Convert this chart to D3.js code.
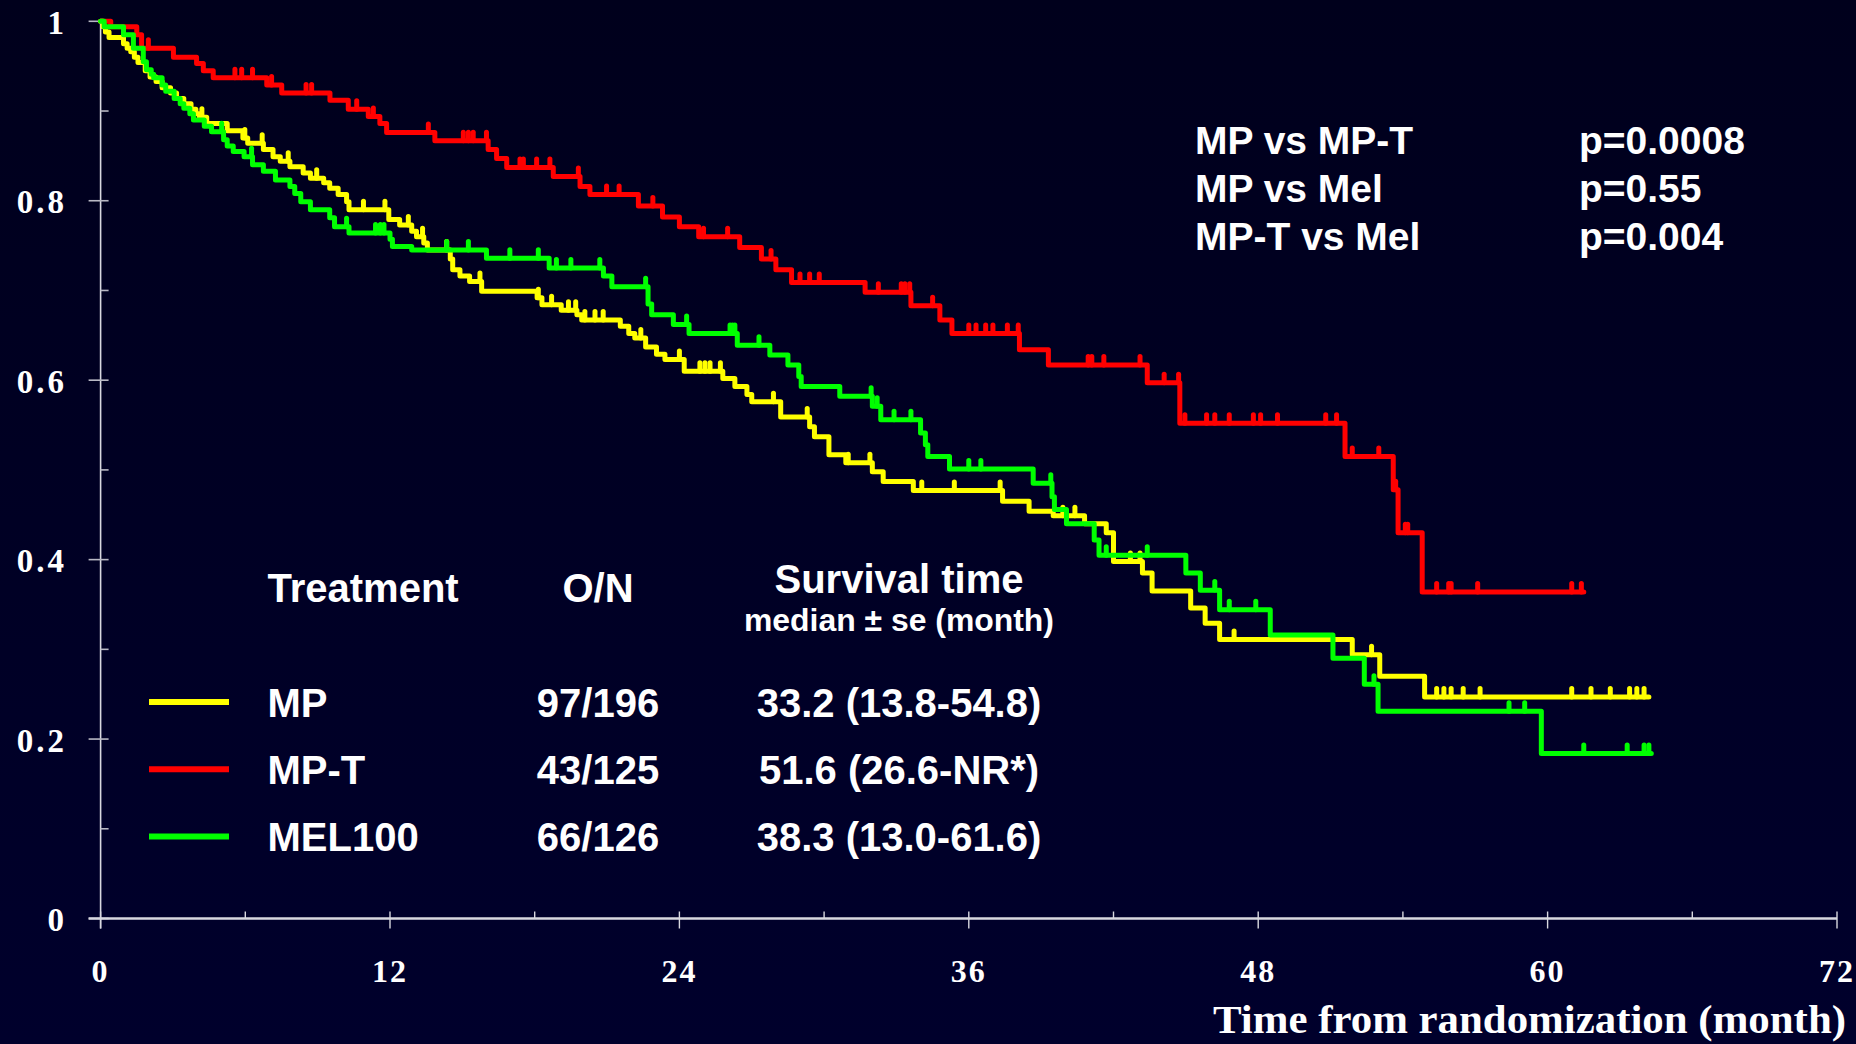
<!DOCTYPE html>
<html>
<head>
<meta charset="utf-8">
<title>Overall survival by treatment arm</title>
<script src="https://cdn.jsdelivr.net/npm/d3@7"></script>
<style>
  html, body { margin: 0; padding: 0; background: #000022; overflow: hidden; }
  svg { display: block; }
  .sans { font-family: "Liberation Sans", Arial, sans-serif; font-weight: bold; fill: #ffffff; }
  .serif { font-family: "Liberation Serif", "Times New Roman", serif; font-weight: bold; fill: #ffffff; }
</style>
</head>
<body>
<svg id="chart" width="1856" height="1044"></svg>
<script>
// ---- Kaplan–Meier estimates: [month, survival after the event] ----
const mpSteps = [
  [0,1],[0.1,0.994],[0.2,0.988],[0.35,0.982],[0.95,0.975],[1.1,0.970],[1.25,0.966],[1.4,0.960],
  [1.55,0.954],[1.85,0.945],[2.05,0.938],[2.3,0.933],[2.55,0.926],[2.9,0.920],[3.15,0.914],
  [3.45,0.908],[3.75,0.902],[3.95,0.897],[4.1,0.893],[4.4,0.886],[5.25,0.878],[5.9,0.870],
  [6.1,0.864],[6.75,0.857],[7.15,0.849],[7.45,0.844],[7.85,0.838],[8.4,0.831],[8.7,0.825],
  [9.25,0.820],[9.5,0.814],[9.85,0.807],[10.2,0.799],[10.3,0.790],[11.95,0.779],[12.4,0.773],
  [12.9,0.766],[13.1,0.760],[13.4,0.753],[13.55,0.745],[14.5,0.735],[14.6,0.723],[14.9,0.716],
  [15.3,0.710],[15.8,0.699],[18.1,0.692],[18.3,0.684],[19.1,0.678],[19.75,0.673],[19.95,0.667],
  [21.55,0.660],[21.9,0.652],[22.15,0.647],[22.6,0.637],[23.05,0.629],[23.4,0.623],[24.2,0.610],
  [25.8,0.602],[26.3,0.593],[26.8,0.584],[27.0,0.576],[28.2,0.559],[29.4,0.548],[29.6,0.537],
  [30.2,0.517],[30.9,0.508],[32.0,0.498],[32.45,0.487],[33.7,0.477],[37.4,0.465],[38.5,0.454],
  [39.5,0.449],[40.8,0.440],[41.7,0.430],[42.0,0.398],[43.2,0.385],[43.6,0.365],[45.2,0.346],
  [45.8,0.329],[46.4,0.311],[51.9,0.294],[53.04,0.270],[54.9,0.247]
];
const mpCensored = [
  4.2,5.98,6.7,7.78,8.96,10.9,11.79,12.76,13.35,14.35,15.73,18.15,18.7,19.4,19.7,20.08,20.5,
  20.84,22.4,24.0,24.85,25.06,25.27,25.7,27.9,29.3,31.0,31.9,34.05,35.4,37.3,39.9,40.4,42.7,
  43.1,47.0,52.7,55.4,55.7,56.0,56.5,57.2,61.0,61.8,62.6,63.4,63.7,64.0
];
const mpLastFollowUp = 64.2;

const mptSteps = [
  [0,1],[0.42,0.994],[1.5,0.985],[1.7,0.970],[3.02,0.960],[3.98,0.953],[4.26,0.945],[4.67,0.937],
  [6.89,0.929],[7.51,0.920],[9.51,0.912],[10.27,0.902],[11.10,0.894],[11.58,0.886],[11.86,0.876],
  [13.86,0.867],[16.07,0.857],[16.42,0.847],[16.84,0.837],[18.77,0.827],[19.88,0.816],[20.29,0.807],
  [22.3,0.794],[23.3,0.782],[24.0,0.771],[24.8,0.760],[26.5,0.748],[27.4,0.735],[28.0,0.723],
  [28.65,0.709],[31.7,0.698],[33.6,0.683],[34.8,0.667],[35.3,0.652],[38.1,0.634],[39.3,0.617],
  [43.4,0.597],[44.75,0.552],[51.6,0.515],[53.6,0.478],[53.8,0.430],[54.8,0.364]
];
const mptCensored = [
  1.98,5.57,5.85,6.30,7.09,8.52,8.75,10.62,11.31,13.59,15.04,15.25,15.45,16.0,17.39,17.53,18.08,
  18.63,19.81,20.98,21.5,22.9,25.0,26.0,27.8,29.0,29.4,29.8,32.25,33.2,33.35,33.55,34.5,36.0,36.3,
  36.7,37.0,37.6,38.05,40.95,41.1,41.6,43.1,44.1,44.7,44.96,45.86,46.2,46.8,47.8,48.1,48.8,50.8,
  51.25,51.9,53.0,53.7,54.1,54.2,55.4,55.9,56.0,57.1,61.0,61.4
];
const mptLastFollowUp = 61.5;

const melSteps = [
  [0,1],[0.15,0.994],[0.95,0.985],[1.36,0.970],[1.77,0.955],[1.9,0.946],[2.1,0.941],[2.2,0.937],
  [2.55,0.929],[2.7,0.922],[3.05,0.914],[3.3,0.908],[3.45,0.903],[3.7,0.897],[3.85,0.890],[4.3,0.883],
  [4.6,0.877],[5.1,0.868],[5.25,0.861],[5.5,0.855],[5.95,0.849],[6.3,0.840],[6.75,0.833],[7.25,0.823],
  [7.85,0.816],[8.05,0.808],[8.3,0.799],[8.7,0.790],[9.5,0.781],[9.7,0.771],[10.3,0.764],[12.0,0.757],
  [12.1,0.749],[12.9,0.745],[16.0,0.736],[18.6,0.725],[20.85,0.716],[21.2,0.704],[22.7,0.685],
  [22.85,0.673],[23.75,0.662],[24.4,0.652],[26.4,0.639],[27.75,0.628],[28.5,0.617],[28.95,0.604],
  [29.05,0.593],[30.65,0.582],[32.0,0.571],[32.35,0.556],[34.0,0.541],[34.2,0.528],[34.3,0.515],
  [35.2,0.501],[38.67,0.485],[39.45,0.470],[39.55,0.456],[40.05,0.440],[41.2,0.422],[41.4,0.405],
  [45.0,0.385],[45.6,0.366],[46.4,0.344],[48.5,0.316],[51.1,0.290],[52.4,0.261],[52.97,0.231],
  [59.74,0.184]
];
const melCensored = [
  5.02,6.26,10.2,11.4,11.6,11.75,14.35,15.25,16.97,18.15,18.9,19.5,20.7,22.6,24.3,26.1,26.2,26.3,
  27.3,31.95,32.2,32.9,33.6,36.0,36.5,39.4,41.7,43.4,46.2,46.8,47.9,52.8,58.4,59.05,61.5,63.3,
  64.0,64.2
];
const melLastFollowUp = 64.3;

// ---- legend table ----
const armNames   = ["MP", "MP-T", "MEL100"];
const armColors  = ["#ffff00", "#ff0000", "#00ff00"];
const armEvents  = ["97/196", "43/125", "66/126"];
const armMedians = ["33.2 (13.8-54.8)", "51.6 (26.6-NR*)", "38.3 (13.0-61.6)"];

// ---- pairwise log-rank tests ----
const comparisons = ["MP vs MP-T", "MP vs Mel", "MP-T vs Mel"];
const pValues     = ["p=0.0008", "p=0.55", "p=0.004"];

// ---- axes ----
const xMajorTicks = [0, 12, 24, 36, 48, 60, 72];
const xMinorTicks = [6, 18, 30, 42, 54, 66];
const yMajorTicks = [0, 0.2, 0.4, 0.6, 0.8, 1];
const yMinorTicks = [0.1, 0.3, 0.5, 0.7, 0.9];
const yTickLabels = ["0", "0.2", "0.4", "0.6", "0.8", "1"];
const xTitle = "Time from randomization (month)";

// ---------------------------------------------------------------
const svg = d3.select("#chart");

const defs = svg.append("defs");
const bg = defs.append("linearGradient").attr("id", "bg")
  .attr("x1", 0).attr("y1", 0).attr("x2", 0).attr("y2", 1);
bg.append("stop").attr("offset", "0%").attr("stop-color", "#00001c");
bg.append("stop").attr("offset", "100%").attr("stop-color", "#00002c");
svg.append("rect").attr("width", 1856).attr("height", 1044).attr("fill", "url(#bg)");

const x = d3.scaleLinear().domain([0, 72]).range([100.6, 1837]);
const y = d3.scaleLinear().domain([0, 1]).range([918.5, 21.3]);

const axisColor = "#d8d8e0";
const axes = svg.append("g");

// y axis line and ticks
axes.append("line")
  .attr("x1", x(0)).attr("x2", x(0))
  .attr("y1", y(1)).attr("y2", y(0) + 10)
  .attr("stroke", axisColor).attr("stroke-width", 1.6);
axes.selectAll(".ymaj").data(yMajorTicks).join("line")
  .attr("x1", x(0) - 12).attr("x2", x(0) + 8)
  .attr("y1", d => y(d)).attr("y2", d => y(d))
  .attr("stroke", "#b8b8c4").attr("stroke-width", 1.6);
axes.selectAll(".ymin").data(yMinorTicks).join("line")
  .attr("x1", x(0)).attr("x2", x(0) + 8)
  .attr("y1", d => y(d)).attr("y2", d => y(d))
  .attr("stroke", "#b8b8c4").attr("stroke-width", 1.6);
axes.selectAll(".ylab").data(yMajorTicks).join("text")
  .attr("class", "serif")
  .attr("x", 67).attr("y", d => y(d) + 12.5)
  .attr("text-anchor", "end")
  .attr("font-size", 33)
  .attr("letter-spacing", 3)
  .text((d, i) => yTickLabels[i]);

// x axis line and ticks
axes.append("line")
  .attr("x1", x(0) - 12).attr("x2", x(72))
  .attr("y1", y(0)).attr("y2", y(0))
  .attr("stroke", axisColor).attr("stroke-width", 2.4);
axes.selectAll(".xmaj").data(xMajorTicks).join("line")
  .attr("x1", d => x(d)).attr("x2", d => x(d))
  .attr("y1", y(0) - 7).attr("y2", y(0) + 10)
  .attr("stroke", axisColor).attr("stroke-width", 1.4);
axes.selectAll(".xmin").data(xMinorTicks).join("line")
  .attr("x1", d => x(d)).attr("x2", d => x(d))
  .attr("y1", y(0) - 7).attr("y2", y(0))
  .attr("stroke", axisColor).attr("stroke-width", 1.4);
axes.selectAll(".xlab").data(xMajorTicks).join("text")
  .attr("class", "serif")
  .attr("x", d => x(d)).attr("y", 982)
  .attr("text-anchor", "middle")
  .attr("font-size", 32)
  .attr("letter-spacing", 2)
  .text(d => String(d));
axes.append("text")
  .attr("class", "serif")
  .attr("x", 1846).attr("y", 1033)
  .attr("text-anchor", "end")
  .attr("font-size", 40)
  .attr("textLength", 633).attr("lengthAdjust", "spacingAndGlyphs")
  .text(xTitle);

// ---- survival curves ----
const series = [
  { steps: mptSteps, censored: mptCensored, last: mptLastFollowUp, color: armColors[1] },
  { steps: mpSteps,  censored: mpCensored,  last: mpLastFollowUp,  color: armColors[0] },
  { steps: melSteps, censored: melCensored, last: melLastFollowUp, color: armColors[2] }
];

const stepLine = d3.line()
  .x(d => x(d[0])).y(d => y(d[1]))
  .curve(d3.curveStepAfter);

const survivalAt = (steps, t) => {
  const i = d3.bisector(d => d[0]).right(steps, t) - 1;
  return steps[Math.max(0, i)][1];
};

const lineWidth = 5;
const curves = svg.append("g");
series.forEach(s => {
  const pts = s.steps.concat([[s.last, s.steps[s.steps.length - 1][1]]]);
  const g = curves.append("g");
  g.append("path")
    .attr("d", stepLine(pts))
    .attr("fill", "none")
    .attr("stroke", s.color)
    .attr("stroke-width", lineWidth)
    .attr("stroke-linejoin", "round")
    .attr("stroke-linecap", "round");
  // censoring marks
  g.selectAll("line").data(s.censored).join("line")
    .attr("x1", t => x(t)).attr("x2", t => x(t))
    .attr("y1", t => y(survivalAt(s.steps, t)))
    .attr("y2", t => y(survivalAt(s.steps, t)) - 8.5)
    .attr("stroke", s.color)
    .attr("stroke-width", lineWidth)
    .attr("stroke-linecap", "round");
});

// ---- p-values ----
const pv = svg.append("g");
pv.selectAll(".cmp").data(comparisons).join("text")
  .attr("class", "sans")
  .attr("x", 1195).attr("y", (d, i) => 153.5 + i * 48)
  .attr("font-size", 39)
  .text(d => d);
pv.selectAll(".pval").data(pValues).join("text")
  .attr("class", "sans")
  .attr("x", 1579).attr("y", (d, i) => 153.5 + i * 48)
  .attr("font-size", 39)
  .text(d => d);

// ---- legend table ----
const lg = svg.append("g");
lg.append("text").attr("class", "sans")
  .attr("x", 267.5).attr("y", 601.7).attr("font-size", 40).text("Treatment");
lg.append("text").attr("class", "sans")
  .attr("x", 598).attr("y", 601.7).attr("text-anchor", "middle").attr("font-size", 40).text("O/N");
lg.append("text").attr("class", "sans")
  .attr("x", 899).attr("y", 593.3).attr("text-anchor", "middle").attr("font-size", 40).text("Survival time");
lg.append("text").attr("class", "sans")
  .attr("x", 899).attr("y", 631).attr("text-anchor", "middle").attr("font-size", 31)
  .attr("textLength", 310).attr("lengthAdjust", "spacingAndGlyphs")
  .text("median \u00b1 se (month)");

const rowY = i => 702 + i * 67.3;
lg.selectAll(".key").data(armNames).join("line")
  .attr("x1", 149).attr("x2", 229)
  .attr("y1", (d, i) => rowY(i)).attr("y2", (d, i) => rowY(i))
  .attr("stroke", (d, i) => armColors[i])
  .attr("stroke-width", 6);
lg.selectAll(".name").data(armNames).join("text")
  .attr("class", "sans")
  .attr("x", 267.5).attr("y", (d, i) => rowY(i) + 14.5)
  .attr("font-size", 40).text(d => d);
lg.selectAll(".events").data(armEvents).join("text")
  .attr("class", "sans")
  .attr("x", 598).attr("y", (d, i) => rowY(i) + 14.5)
  .attr("text-anchor", "middle")
  .attr("font-size", 40).text(d => d);
lg.selectAll(".median").data(armMedians).join("text")
  .attr("class", "sans")
  .attr("x", 899).attr("y", (d, i) => rowY(i) + 14.5)
  .attr("text-anchor", "middle")
  .attr("font-size", 40).text(d => d);
</script>
</body>
</html>
